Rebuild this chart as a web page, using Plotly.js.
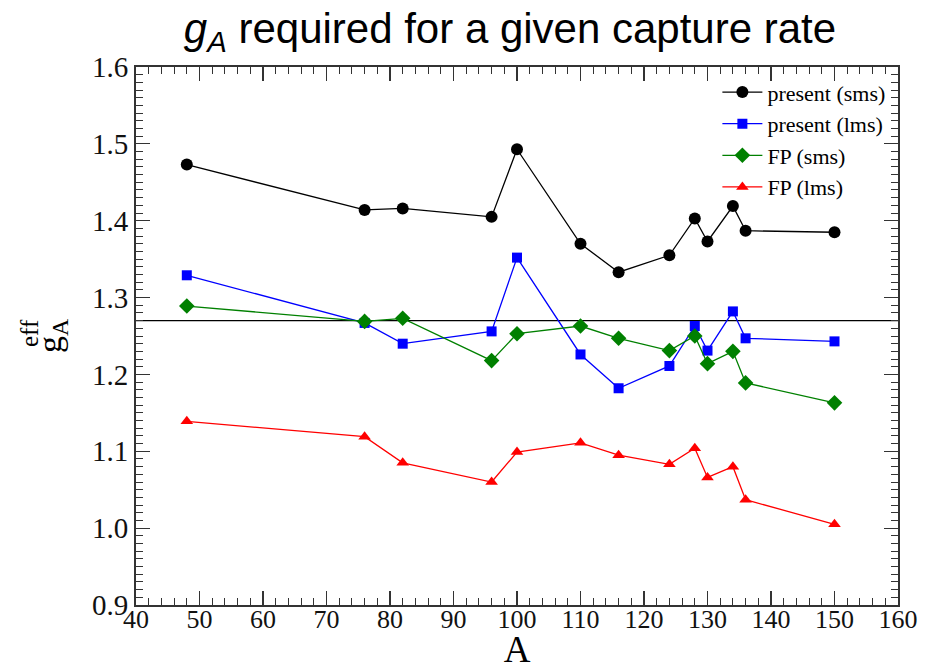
<!DOCTYPE html>
<html>
<head>
<meta charset="utf-8">
<script src="https://cdn.plot.ly/plotly-3.0.1.min.js"></script>
<style>html,body{margin:0;padding:0;background:#fff;}#chart{width:934px;height:670px;}</style>
</head>
<body>
<div id="chart"></div>
<script>
const massNumbers = [48, 76, 82, 96, 100, 110, 116, 124, 128, 130, 134, 136, 150];
const presentSms = [1.473, 1.414, 1.416, 1.405, 1.493, 1.370, 1.333, 1.355, 1.403, 1.373, 1.419, 1.387, 1.385];
const presentLms = [1.329, 1.267, 1.240, 1.256, 1.352, 1.226, 1.182, 1.211, 1.263, 1.231, 1.282, 1.247, 1.243];
const fpSms = [1.289, 1.269, 1.273, 1.218, 1.253, 1.263, 1.247, 1.231, 1.250, 1.214, 1.230, 1.189, 1.163];
const fpLms = [1.139, 1.119, 1.085, 1.060, 1.099, 1.111, 1.095, 1.083, 1.104, 1.066, 1.080, 1.037, 1.005];
const seriesNames = ["present (sms)", "present (lms)", "FP (sms)", "FP (lms)"];
const freeNucleonGA = 1.27;

const serif = "Liberation Serif, Times New Roman, serif";

function series(y, name, color, symbol, size) {
  return {
    x: massNumbers, y: y, name: name, type: "scatter", mode: "lines+markers",
    line: {color: color, width: 1.3},
    marker: {color: color, symbol: symbol, size: size}
  };
}

const data = [
  series(presentSms, seriesNames[0], "#000000", "circle", 12),
  series(presentLms, seriesNames[1], "#0000ff", "square", 10),
  series(fpSms, seriesNames[2], "#008000", "diamond", 12),
  series(fpLms, seriesNames[3], "#ff0000", "triangle-up", 11)
];

const axisCommon = {
  showgrid: false, zeroline: false, showline: true, linecolor: "#333", linewidth: 2,
  mirror: "allticks", ticks: "inside", ticklen: 14, tickwidth: 1.2, tickcolor: "#333"
};

const layout = {
  width: 934, height: 670,
  margin: {l: 136, r: 36, t: 67, b: 65},
  paper_bgcolor: "#fff", plot_bgcolor: "#fff",
  title: {
    text: "<i>g<sub>A</sub></i> required for a given capture rate",
    font: {family: "Liberation Sans, Arial, sans-serif", size: 42, color: "#000"},
    x: 0.546, xanchor: "center", y: 0.98, yanchor: "top"
  },
  xaxis: Object.assign({}, axisCommon, {
    range: [40, 160], dtick: 10, tick0: 40,
    tickfont: {family: serif, size: 26, color: "#111"},
    ticklabelstandoff: -10,
    minor: {dtick: 2, ticks: "inside", ticklen: 7, tickcolor: "#333", tickwidth: 1},
    title: {text: "A", font: {family: serif, size: 37, color: "#000"}, standoff: 12}
  }),
  yaxis: Object.assign({}, axisCommon, {
    range: [0.9, 1.6], dtick: 0.1, tick0: 0.9, tickformat: ".1f",
    tickfont: {family: serif, size: 29, color: "#111"},
    minor: {dtick: 0.01, ticks: "inside", ticklen: 7, tickcolor: "#333", tickwidth: 1},
    title: {text: "g<sub>A</sub>", font: {family: serif, size: 34, color: "#000"}, standoff: 20}
  }),
  annotations: [{
    text: "eff", textangle: -90, showarrow: false,
    xref: "paper", yref: "paper", x: -0.14, y: 0.506, xanchor: "center", yanchor: "middle",
    font: {family: serif, size: 25, color: "#000"}
  }],
  shapes: [{
    type: "line", xref: "paper", x0: 0, x1: 1, yref: "y", y0: freeNucleonGA, y1: freeNucleonGA,
    line: {color: "#000", width: 1.3}, layer: "below"
  }],
  legend: {
    x: 0.99, xanchor: "right", y: 0.992, yanchor: "top",
    bgcolor: "rgba(0,0,0,0)", borderwidth: 0,
    font: {family: serif, size: 22, color: "#000"},
    tracegroupgap: 0, itemwidth: 40
  },
  showlegend: true
};

Plotly.newPlot("chart", data, layout, {displayModeBar: false, staticPlot: true});
</script>
</body>
</html>
